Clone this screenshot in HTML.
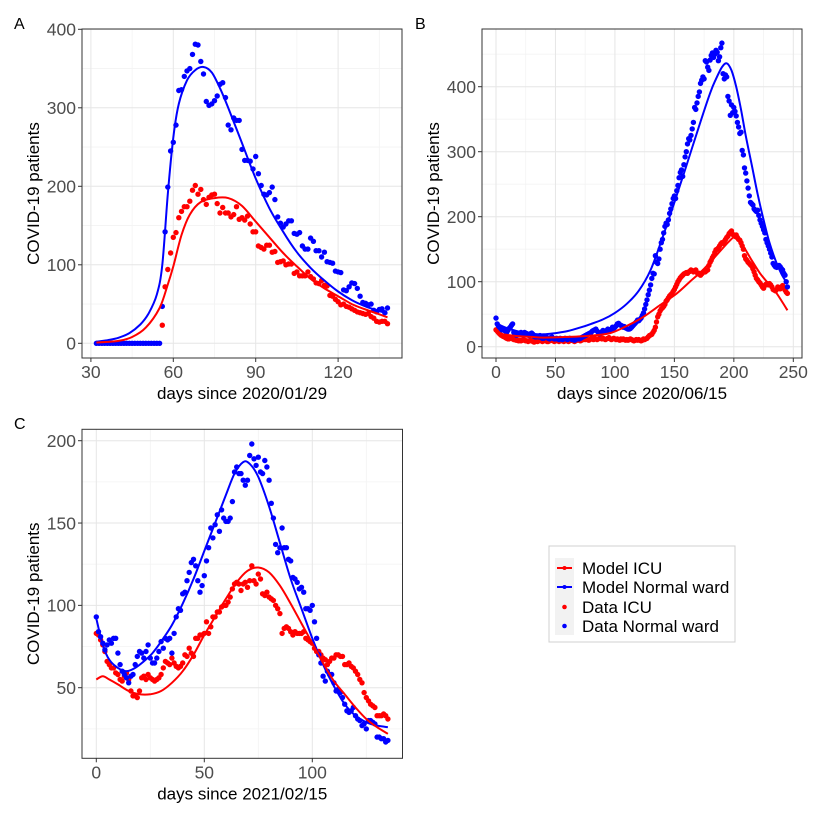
<!DOCTYPE html>
<html><head><meta charset="utf-8"><style>
html,body{margin:0;padding:0;background:#fff}
svg{display:block;font-family:"Liberation Sans",Arial,sans-serif}
</style></head><body>
<svg id="fig" width="820" height="815" viewBox="0 0 820 815">
<rect width="820" height="815" fill="#fff"/>
<g>
 <rect x="549" y="546" width="186" height="96" fill="#fff" stroke="#d0d0d0" stroke-width="1"/>
 <rect x="555" y="558" width="19" height="77" fill="#f2f2f2"/>
 <g><line x1="557" y1="568" x2="572" y2="568" stroke="#ff0000" stroke-width="2"/><circle cx="564.5" cy="568" r="2" fill="#ff0000"/><text x="582" y="574" font-size="17">Model ICU</text></g>
 <g><line x1="557" y1="587" x2="572" y2="587" stroke="#0000ff" stroke-width="2"/><circle cx="564.5" cy="587" r="2" fill="#0000ff"/><text x="582" y="593" font-size="17">Model Normal ward</text></g>
 <g><circle cx="564.5" cy="607" r="2.3" fill="#ff0000"/><text x="582" y="613" font-size="17">Data ICU</text></g>
 <g><circle cx="564.5" cy="626" r="2.3" fill="#0000ff"/><text x="582" y="632" font-size="17">Data Normal ward</text></g>
</g>
</svg>
<script>
// ---------- Panel A data ----------
const aDataDays = [];
for (let d = 32; d <= 138; d++) aDataDays.push(d);
const aBlueData = [0,0,0,0,0,0,0,0,0,0,0,0,0,0,0,0,0,0,0,0,0,0,0,0,
47,142,199,245,256,278,322,323,340,347,350,368,381,380,359,343,308,303,305,309,315,330,332,313,278,272,287,284,284,247,233,233,232,222,238,216,201,190,189,192,199,183,161,153,148,152,156,156,140,139,141,124,120,120,134,130,118,118,110,116,104,103,102,92,91,90,68,67,72,77,76,70,60,52,51,49,50,42,40,43,44,39,45];
const aRedData = [null,null,null,null,null,null,null,null,null,null,null,null,null,null,null,null,null,null,null,null,null,null,null,null,
23,72,94,115,135,141,160,168,174,174,181,195,201,190,196,183,177,186,189,190,178,166,173,166,166,161,164,174,158,160,157,162,152,142,142,124,122,120,125,125,116,117,103,104,105,100,101,101,89,91,86,86,86,91,85,82,77,76,80,74,73,61,60,56,53,49,50,47,46,44,42,40,39,38,37,38,34,32,28,27,28,28,25];
const aModelDays = [32,36,40,44,48,51,54,56,58,60,62,65,68,71,74,77,80,85,90,95,100,105,110,115,120,125,130,135,138];
const aBlueModel = [2,4,7,13,24,38,62,100,190,262,305,335,348,352,345,325,300,255,210,172,142,116,96,80,66,55,47,41,38];
const aRedModelDays = [32,40,45,50,55,58,60,63,66,70,75,80,85,90,95,100,105,110,115,120,125,130,135,138];
const aRedModel = [1,3,8,20,45,75,98,138,164,180,185,185,175,155,135,115,98,82,70,60,50,43,37,33];
const aXTicks = [30,60,90,120];
const aYTicks = [0,100,200,300,400];

// ---------- Panel B data ----------
const bBlueData = [44,35,32,30,28,26,27,25,24,22,25,28,30,33,35,22,19,18,18,20,21,22,20,18,22,21,20,18,17,20,21,19,16,15,15,16,15,17,14,13,13,16,15,14,13,12,14,15,13,12,12,13,12,11,13,12,11,12,13,12,11,12,13,12,11,12,10,11,12,13,12,13,14,15,16,17,18,19,20,21,22,24,25,26,27,24,22,20,21,23,25,24,22,25,27,26,25,27,30,28,30,32,35,36,34,33,32,30,31,29,28,27,27,28,30,32,34,36,38,41,40,42,44,48,52,58,65,72,80,87,95,105,113,112,140,130,128,135,150,160,165,175,185,190,188,195,205,212,220,228,232,228,240,248,260,268,272,262,280,292,300,312,320,318,325,335,345,368,365,375,385,392,405,410,415,412,440,438,430,425,441,448,452,445,450,456,453,440,446,460,467,420,412,418,415,385,378,356,372,360,368,362,355,345,338,328,330,302,295,275,267,255,244,232,222,220,218,212,210,208,210,202,195,190,185,180,175,165,160,155,150,144,138,128,125,123,122,123,125,123,120,118,113,110,100,92];
const bRedData = [26,24,22,20,18,17,16,15,14,13,12,12,14,13,12,11,11,10,10,9,10,9,10,11,10,9,9,8,9,10,9,8,7,8,9,8,9,10,9,8,9,10,9,8,8,9,10,11,9,8,9,10,9,8,9,10,9,8,9,10,9,8,9,10,10,9,8,9,10,11,10,9,10,11,12,11,12,11,10,11,12,12,11,13,12,11,12,13,14,12,13,12,11,12,13,14,12,11,12,13,12,11,12,11,10,12,11,12,11,10,11,10,11,12,11,10,9,10,11,10,11,10,9,10,12,11,12,13,15,17,18,19,22,25,30,38,46,50,55,58,60,62,65,70,72,75,78,80,82,85,88,92,96,100,103,106,108,110,112,113,114,113,115,116,118,117,115,116,118,114,112,113,110,112,114,116,115,117,118,125,130,133,137,140,145,149,150,152,155,158,160,159,162,165,168,170,174,176,178,173,172,170,172,168,165,164,160,155,150,140,135,133,130,128,126,124,120,115,110,105,103,100,98,95,92,90,94,96,97,95,97,95,92,88,87,86,88,92,90,89,92,94,90,87,84,82];
const bModelDays = [0,10,20,30,40,50,60,70,80,90,100,110,120,130,140,150,160,170,180,185,190,194,198,202,206,210,215,220,225,230,235,240,245];
const bBlueModel = [36,28,23,20,19,21,24,29,35,42,52,66,86,118,168,222,278,335,390,412,430,436,425,400,365,325,280,235,195,160,133,112,97];
const bRedModelDays = [0,10,20,30,40,60,80,96,110,124,138,152,163,174,185,197,201,208,215,222,230,236,241,245];
const bRedModel = [21,18,16,15,14,15,17,21,32,46,64,82,100,118,140,164,167,154,133,113,95,82,68,56];
const bXTicks = [0,50,100,150,200,250];
const bYTicks = [0,100,200,300,400];

// ---------- Panel C data ----------
const cBlueData = [93,84,81,77,73,76,79,77,80,80,71,64,60,58,56,53,57,58,64,69,72,71,68,72,76,68,65,65,68,72,78,74,80,79,80,71,83,93,98,97,107,108,115,120,126,128,124,115,108,112,118,127,135,147,141,149,155,145,158,153,151,151,153,163,181,184,180,180,176,173,176,191,198,189,185,190,181,180,188,184,176,162,153,137,132,135,147,135,135,128,127,117,116,114,110,111,108,98,98,97,100,90,80,70,65,57,54,60,58,58,53,48,49,47,44,40,36,35,36,38,33,31,30,27,28,25,30,30,29,28,20,20,19,19,17,18];
const cRedData = [83,82,79,76,72,66,64,62,62,59,58,55,54,57,59,55,48,45,45,44,48,56,57,55,58,56,55,54,55,56,58,62,66,65,64,68,65,63,62,63,65,70,69,74,71,69,80,80,82,82,83,90,83,87,93,93,96,96,99,100,100,102,105,110,113,114,113,109,113,114,111,115,124,115,113,119,116,107,106,108,105,104,103,100,98,95,83,86,87,86,84,82,84,83,83,83,84,80,79,78,77,74,72,72,70,68,67,64,66,68,68,70,70,69,69,64,64,65,63,62,60,58,55,53,47,44,42,40,39,38,33,33,33,34,33,31];
const cModelDays = [0,3,6,10,14,18,22,26,30,35,40,45,50,55,60,64,68,71,75,80,85,90,95,100,105,110,115,120,125,130,135];
const cBlueModel = [92,76,67,62,60,62,66,71,78,88,101,116,133,150,167,180,187,186,178,160,138,116,98,80,64,51,40,33,29,27,26];
const cRedModelDays = [0,3,6,10,15,20,25,30,35,40,45,50,55,60,65,70,75,80,85,90,95,100,105,110,115,120,125,130,135];
const cRedModel = [55,57,55,52,48,46,46,48,53,60,70,82,93,104,114,121,123,120,112,101,89,77,65,54,46,38,31,26,22];
const cXTicks = [0,50,100];
const cYTicks = [50,100,150,200];

const NS = "http://www.w3.org/2000/svg";
const svg = document.getElementById('fig');
function mk(tag, attrs, parent) {
  const e = document.createElementNS(NS, tag);
  for (const k in attrs) e.setAttribute(k, attrs[k]);
  (parent || svg).appendChild(e);
  return e;
}
function lin(d0, d1, r0, r1) { return v => r0 + (v - d0) * (r1 - r0) / (d1 - d0); }

function panel(cfg) {
  const g = mk('g', {});
  
  
  const {L, R, T, B, xs, ys} = cfg;
  mk('rect', {x: L, y: T, width: R - L, height: B - T, fill: '#fff'}, g);
  cfg.xMinor.forEach(v => { const l = mk('line', {x1: xs(v), x2: xs(v), y1: T, y2: B, stroke: '#f3f3f3', 'stroke-width': 0.8}, g);   });
  cfg.yMinor.forEach(v => { const l = mk('line', {x1: L, x2: R, y1: ys(v), y2: ys(v), stroke: '#f3f3f3', 'stroke-width': 0.8}, g);   });
  cfg.xTicks.forEach(v => { const l = mk('line', {x1: xs(v), x2: xs(v), y1: T, y2: B, stroke: '#e6e6e6', 'stroke-width': 1}, g);   });
  cfg.yTicks.forEach(v => { const l = mk('line', {x1: L, x2: R, y1: ys(v), y2: ys(v), stroke: '#e6e6e6', 'stroke-width': 1}, g);   });
  const pts = mk('g', {}, g);
  
  
  function dots(days, vals, color, name) {
    vals.forEach((v, i) => {
      if (v === null) return;
      const c = mk('circle', {cx: xs(days[i]).toFixed(1), cy: ys(v).toFixed(1), r: 2.7, fill: color}, pts);
      
      
    });
  }
  dots(cfg.dataDays, cfg.redData, '#ff0000', 'data-icu-point');
  dots(cfg.dataDays, cfg.blueData, '#0000ff', 'data-normal-ward-point');
  function curve(days, vals, color, name) {
    const P = days.map((d, i) => [xs(d), ys(vals[i])]);
    let dd = 'M' + P[0][0].toFixed(1) + ',' + P[0][1].toFixed(1);
    for (let i = 0; i < P.length - 1; i++) {
      const p0 = P[Math.max(0, i - 1)], p1 = P[i], p2 = P[i + 1], p3 = P[Math.min(P.length - 1, i + 2)];
      const c1 = [p1[0] + (p2[0] - p0[0]) / 6, p1[1] + (p2[1] - p0[1]) / 6];
      const c2 = [p2[0] - (p3[0] - p1[0]) / 6, p2[1] - (p3[1] - p1[1]) / 6];
      dd += 'C' + c1.map(n => n.toFixed(1)).join(',') + ' ' + c2.map(n => n.toFixed(1)).join(',') + ' ' + p2.map(n => n.toFixed(1)).join(',');
    }
    const p = mk('path', {d: dd, fill: 'none', stroke: color, 'stroke-width': 2}, g);
    
    
  }
  curve(cfg.blueModelDays, cfg.blueModel, '#0000ff', 'model-normal-ward-line');
  curve(cfg.redModelDays, cfg.redModel, '#ff0000', 'model-icu-line');
  const br = mk('rect', {x: L, y: T, width: R - L, height: B - T, fill: 'none', stroke: '#333', 'stroke-width': 1}, g);
  
  
  cfg.xTicks.forEach(v => {
    mk('line', {x1: xs(v), x2: xs(v), y1: B, y2: B + 4, stroke: '#333', 'stroke-width': 1}, g);
    const t = mk('text', {x: xs(v), y: B + 20, 'font-size': 17.5, fill: '#4d4d4d', 'text-anchor': 'middle'}, g);
    t.textContent = v;
    
    
  });
  cfg.yTicks.forEach(v => {
    mk('line', {x1: L - 4, x2: L, y1: ys(v), y2: ys(v), stroke: '#333', 'stroke-width': 1}, g);
    const t = mk('text', {x: L - 6, y: ys(v) + 6.3, 'font-size': 17.5, fill: '#4d4d4d', 'text-anchor': 'end'}, g);
    t.textContent = v;
    
    
  });
  const xt = mk('text', {x: (L + R) / 2, y: B + 41, 'font-size': 17, fill: '#000', 'text-anchor': 'middle'}, g);
  xt.textContent = cfg.xTitle;
  
  
  const yt = mk('text', {x: 0, y: 0, 'font-size': 17, fill: '#000', 'text-anchor': 'middle', transform: 'translate(' + cfg.yTitleX + ',' + (T + B) / 2 + ') rotate(-90)'}, g);
  yt.textContent = 'COVID-19 patients';
  
  
  const lb = mk('text', {x: cfg.labX, y: cfg.labY, 'font-size': 16, fill: '#000'}, g);
  lb.textContent = cfg.id;
  
  
}

const bDays = bBlueData.map((_, i) => i);
const cDays = cBlueData.map((_, i) => i);

panel({id: 'A', L: 82, R: 402, T: 29, B: 358, xs: lin(60, 120, 173.3, 338.1), ys: lin(0, 400, 343.3, 29.3),
  xTicks: aXTicks, yTicks: aYTicks, xMinor: [45, 75, 105, 135], yMinor: [50, 150, 250, 350],
  dataDays: aDataDays, blueData: aBlueData, redData: aRedData,
  blueModelDays: aModelDays, blueModel: aBlueModel, redModelDays: aRedModelDays, redModel: aRedModel,
  xTitle: 'days since 2020/01/29', yTitleX: 39, labX: 14, labY: 29});
panel({id: 'B', L: 482, R: 802, T: 29, B: 358, xs: lin(0, 250, 496, 793.3), ys: lin(0, 400, 346.7, 86.7),
  xTicks: bXTicks, yTicks: bYTicks, xMinor: [25, 75, 125, 175, 225], yMinor: [50, 150, 250, 350, 450],
  dataDays: bDays, blueData: bBlueData, redData: bRedData,
  blueModelDays: bModelDays, blueModel: bBlueModel, redModelDays: bRedModelDays, redModel: bRedModel,
  xTitle: 'days since 2020/06/15', yTitleX: 439, labX: 415, labY: 29});
panel({id: 'C', L: 82, R: 402.5, T: 429.3, B: 758.3, xs: lin(0, 100, 96.3, 312.3), ys: lin(50, 200, 687.7, 440.7),
  xTicks: cXTicks, yTicks: cYTicks, xMinor: [25, 75, 125], yMinor: [25, 75, 125, 175],
  dataDays: cDays, blueData: cBlueData, redData: cRedData,
  blueModelDays: cModelDays, blueModel: cBlueModel, redModelDays: cRedModelDays, redModel: cRedModel,
  xTitle: 'days since 2021/02/15', yTitleX: 39, labX: 14, labY: 429});
</script>
</body></html>
